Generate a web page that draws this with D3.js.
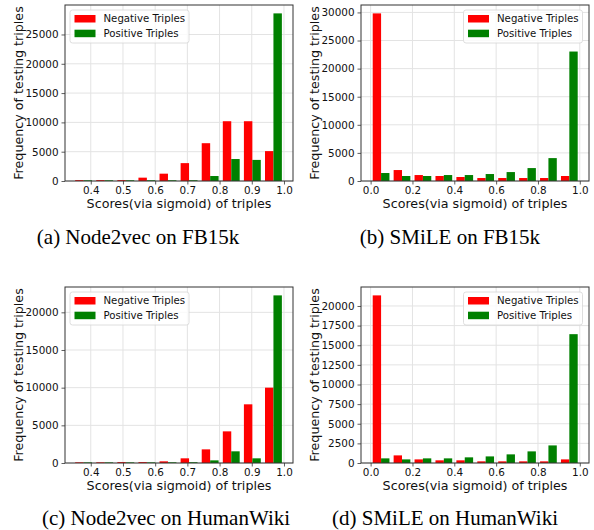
<!DOCTYPE html>
<html>
<head>
<meta charset="utf-8">
<script src="https://cdn.jsdelivr.net/npm/d3@7"></script>
<style>
  body { margin: 0; background: #fff; }
  svg { display: block; }
  .tick text { font-family: "DejaVu Sans", sans-serif; font-size: 10.4px; fill: #111; }
  .tick line { stroke: #333; stroke-width: 0.8px; }
  .axis-label { font-family: "DejaVu Sans", sans-serif; font-size: 12.7px; fill: #111; }
  .legend text { font-family: "DejaVu Sans", sans-serif; font-size: 10.2px; fill: #111; }
  .caption { font-family: "Liberation Serif", "Times New Roman", serif; font-size: 21px; fill: #000; }
</style>
</head>
<body>
<div id="chart-area"></div>
<script>
// Histogram counts per bin (10 bins each)
var negNodeFB   = [150, 150, 150, 570, 1250, 3050, 6450, 10200, 10200, 5100];
var posNodeFB   = [120, 120, 120, 120, 120, 130, 850, 3750, 3600, 28600];
var negSmileFB  = [29830, 1950, 1060, 890, 710, 530, 530, 530, 530, 890];
var posSmileFB  = [1420, 890, 890, 1060, 1060, 1240, 1590, 2300, 4075, 23040];
var negNodeHW   = [90, 90, 120, 120, 220, 620, 1810, 4200, 7790, 10000];
var posNodeHW   = [80, 80, 80, 80, 90, 100, 350, 1550, 620, 22250];
var negSmileHW  = [21350, 970, 460, 340, 340, 210, 210, 210, 210, 460];
var posSmileHW  = [590, 460, 590, 590, 720, 840, 1100, 1480, 2240, 16410];

// bin ranges (min, max of the scores)
var binsNode  = [0.345, 1.0];
var binsSmile = [0.0, 1.0];

// tick labels
var xTicksNode  = [0.4, 0.5, 0.6, 0.7, 0.8, 0.9, 1.0];
var xTicksSmile = [0.0, 0.2, 0.4, 0.6, 0.8, 1.0];
var yTicksNodeFB  = [0, 5000, 10000, 15000, 20000, 25000];
var yTicksSmileFB = [0, 5000, 10000, 15000, 20000, 25000, 30000];
var yTicksNodeHW  = [0, 5000, 10000, 15000, 20000];
var yTicksSmileHW = [0, 2500, 5000, 7500, 10000, 12500, 15000, 17500, 20000];

var seriesNames = ["Negative Triples", "Positive Triples"];
var seriesColours = ["#ff0000", "#008000"];

var captions = ["(a) Node2vec on FB15k", "(b) SMiLE on FB15k",
                "(c) Node2vec on HumanWiki", "(d) SMiLE on HumanWiki"];

var W = 594, H = 530;
var svg = d3.select("#chart-area").append("svg")
    .attr("width", W)
    .attr("height", H);

var pw = 228, ph = 176;

var panels = [
    { left: 65,  top: 5,   neg: negNodeFB,  pos: posNodeFB,  bins: binsNode,  xDom: [0.32, 1.028],  xTicks: xTicksNode,  yTicks: yTicksNodeFB,  legend: "left" },
    { left: 361, top: 5,   neg: negSmileFB, pos: posSmileFB, bins: binsSmile, xDom: [-0.046, 1.044], xTicks: xTicksSmile, yTicks: yTicksSmileFB, legend: "right" },
    { left: 65,  top: 287, neg: negNodeHW,  pos: posNodeHW,  bins: binsNode,  xDom: [0.32, 1.028],  xTicks: xTicksNode,  yTicks: yTicksNodeHW,  legend: "left" },
    { left: 361, top: 287, neg: negSmileHW, pos: posSmileHW, bins: binsSmile, xDom: [-0.046, 1.044], xTicks: xTicksSmile, yTicks: yTicksSmileHW, legend: "right" }
];

panels.forEach(function(p) {
    var g = svg.append("g")
        .attr("transform", "translate(" + p.left + "," + p.top + ")");

    var x = d3.scaleLinear().domain(p.xDom).range([0, pw]);
    var yMax = d3.max(p.neg.concat(p.pos)) * 1.05;
    var y = d3.scaleLinear().domain([0, yMax]).range([ph, 0]);

    // grid
    g.append("g").selectAll("line")
        .data(p.xTicks).enter().append("line")
        .attr("x1", function(d){ return x(d); })
        .attr("x2", function(d){ return x(d); })
        .attr("y1", 0).attr("y2", ph)
        .attr("stroke", "#e3e3e3").attr("stroke-width", 1);
    g.append("g").selectAll("line")
        .data(p.yTicks).enter().append("line")
        .attr("x1", 0).attr("x2", pw)
        .attr("y1", function(d){ return y(d); })
        .attr("y2", function(d){ return y(d); })
        .attr("stroke", "#e3e3e3").attr("stroke-width", 1);

    // bars, matplotlib style: two side-by-side bars, 80% of bin width
    var n = p.neg.length;
    var bw = (p.bins[1] - p.bins[0]) / n;
    [p.neg, p.pos].forEach(function(vals, s) {
        g.append("g").selectAll("rect")
            .data(vals).enter().append("rect")
            .attr("x", function(d, i){ return x(p.bins[0] + i * bw + 0.1 * bw + s * 0.4 * bw); })
            .attr("width", x(0.4 * bw) - x(0))
            .attr("y", function(d){ return y(d); })
            .attr("height", function(d){ return ph - y(d); })
            .attr("fill", seriesColours[s]);
    });

    // axes
    var xAxis = g.append("g")
        .attr("transform", "translate(0," + ph + ")")
        .call(d3.axisBottom(x).tickValues(p.xTicks).tickFormat(d3.format(".1f"))
            .tickSize(3.5).tickPadding(2));
    var yAxis = g.append("g")
        .call(d3.axisLeft(y).tickValues(p.yTicks).tickFormat(d3.format("d"))
            .tickSize(3.5).tickPadding(3));
    xAxis.select(".domain").remove();
    yAxis.select(".domain").remove();

    // frame
    g.append("rect")
        .attr("width", pw).attr("height", ph)
        .attr("fill", "none")
        .attr("stroke", "#333").attr("stroke-width", 1);

    // axis labels
    g.append("text")
        .attr("class", "axis-label")
        .attr("x", pw / 2)
        .attr("y", ph + 26.5)
        .attr("text-anchor", "middle")
        .text("Scores(via sigmoid) of triples");
    g.append("text")
        .attr("class", "axis-label")
        .attr("transform", "translate(-42," + (ph / 2) + ") rotate(-90)")
        .attr("text-anchor", "middle")
        .text("Frequency of testing triples");

    // legend
    var lw = 119, lh = 33;
    var lx = p.legend === "left" ? 5 : pw - lw - 6.5;
    var legend = g.append("g")
        .attr("class", "legend")
        .attr("transform", "translate(" + lx + ",5)");
    legend.append("rect")
        .attr("width", lw).attr("height", lh)
        .attr("rx", 2.5)
        .attr("fill", "rgba(255,255,255,0.8)")
        .attr("stroke", "#d6d6d6").attr("stroke-width", 0.8);
    seriesNames.forEach(function(name, i) {
        var row = legend.append("g")
            .attr("transform", "translate(0," + (i * 14.7) + ")");
        row.append("rect")
            .attr("x", 4.5).attr("y", 5)
            .attr("width", 21).attr("height", 7.5)
            .attr("fill", seriesColours[i]);
        row.append("text")
            .attr("x", 33.5).attr("y", 12.3)
            .text(name);
    });
});

// sub-figure captions
var capPos = [[138, 244], [450, 244], [166, 525], [445, 525]];
captions.forEach(function(c, i) {
    svg.append("text")
        .attr("class", "caption")
        .attr("x", capPos[i][0])
        .attr("y", capPos[i][1])
        .attr("text-anchor", "middle")
        .text(c);
});
</script>
</body>
</html>
